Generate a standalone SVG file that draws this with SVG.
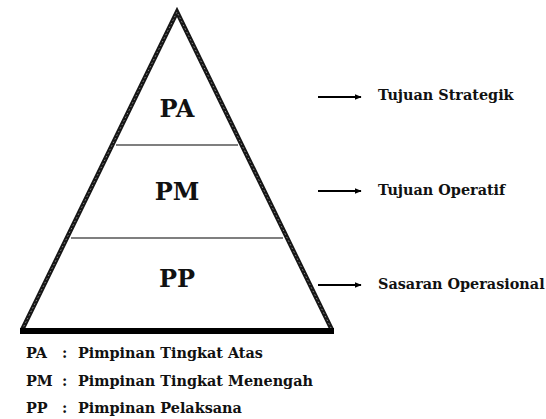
<svg xmlns="http://www.w3.org/2000/svg" width="546" height="419" viewBox="0 0 546 419">
  <style>
    text { font-family: "DejaVu Serif", "Liberation Serif", serif; font-weight: bold; fill: #111; }
    .lvl { font-size: 24px; text-anchor: middle; }
    .goal { font-size: 14.4px; }
    .key { font-size: 14.4px; }
    .edge { stroke: #161616; stroke-width: 4.5; fill: none; stroke-linejoin: miter; }
    .grain { stroke: #8a8a8a; stroke-width: 1; fill: none; stroke-dasharray: 1.5 2.5; }
    .div { stroke: #555; stroke-width: 1.5; }
    .arrow { stroke: #000; stroke-width: 2; marker-end: url(#head); }
  </style>
  <defs>
    <marker id="head" viewBox="0 0 10 10" refX="9" refY="5" markerWidth="3.5" markerHeight="3.5" orient="auto" markerUnits="strokeWidth">
      <path d="M0,1 L10,5 L0,9 Z" fill="#000"/>
    </marker>
  </defs>
  <rect width="546" height="419" fill="#fff"/>

  <!-- pyramid outline with a grained double edge -->
  <g id="pyramid">
    <path class="edge" d="M22,330 L177,12 L332,330"/>
    <path class="grain" d="M22,330 L177,12 L332,330"/>
    <line x1="20" y1="331" x2="334" y2="331" stroke="#000" stroke-width="6"/>
  </g>

  <!-- levels -->
  <g id="level-pa">
    <text class="lvl" x="177" y="117">PA</text>
  </g>
  <g id="level-pm">
    <line class="div" x1="116" y1="145" x2="238" y2="145"/>
    <text class="lvl" x="177" y="200">PM</text>
  </g>
  <g id="level-pp">
    <line class="div" x1="71" y1="238" x2="283" y2="238"/>
    <text class="lvl" x="177" y="287">PP</text>
  </g>

  <!-- connectors -->
  <g id="connectors">
    <line class="arrow" x1="318" y1="97" x2="361" y2="97"/>
    <line class="arrow" x1="318" y1="191" x2="361" y2="191"/>
    <line class="arrow" x1="318" y1="285" x2="361" y2="285"/>
  </g>

  <!-- goals -->
  <g id="goal-strategic">
    <text class="goal" x="378" y="100">Tujuan Strategik</text>
  </g>
  <g id="goal-operative">
    <text class="goal" x="378" y="195">Tujuan Operatif</text>
  </g>
  <g id="goal-operational">
    <text class="goal" x="378" y="289">Sasaran Operasional</text>
  </g>

  <!-- key -->
  <g id="legend">
    <text class="key" x="26" y="358">PA</text>
    <text class="key" x="62" y="358">:</text>
    <text class="key" x="78" y="358">Pimpinan Tingkat Atas</text>
    <text class="key" x="26" y="386">PM</text>
    <text class="key" x="62" y="386">:</text>
    <text class="key" x="78" y="386">Pimpinan Tingkat Menengah</text>
    <text class="key" x="26" y="413">PP</text>
    <text class="key" x="62" y="413">:</text>
    <text class="key" x="78" y="413">Pimpinan Pelaksana</text>
  </g>
</svg>
